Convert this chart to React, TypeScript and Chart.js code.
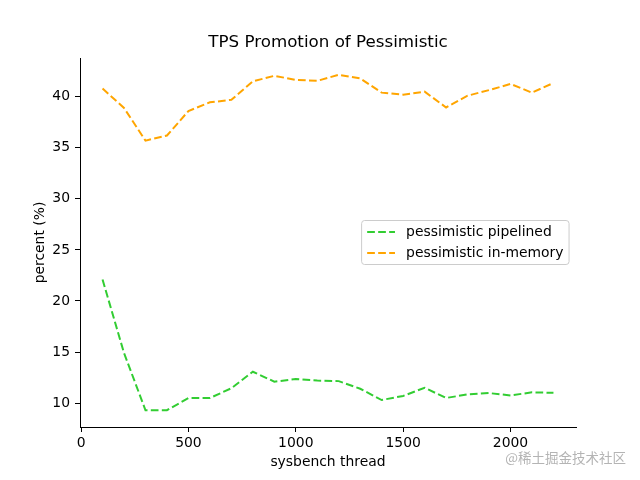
import React, { useEffect, useRef } from "react";
import { Chart, registerables } from "chart.js";

Chart.register(...registerables);

const threads = [100, 200, 300, 400, 500, 600, 700, 800, 900, 1000, 1100, 1200, 1300, 1400, 1500, 1600, 1700, 1800, 1900, 2000, 2100, 2200];
const pipelined = [22.1, 14.9, 9.3, 9.3, 10.5, 10.5, 11.45, 13.07, 12.1, 12.35, 12.2, 12.15, 11.4, 10.3, 10.7, 11.5, 10.5, 10.85, 10.98, 10.75, 11.05, 11.0];
const inMemory = [40.8, 38.9, 35.7, 36.2, 38.6, 39.45, 39.7, 41.5, 42.05, 41.65, 41.55, 42.15, 41.8, 40.4, 40.2, 40.5, 38.95, 40.1, 40.65, 41.25, 40.4, 41.35];
const xTicks = [0, 500, 1000, 1500, 2000];
const yTicks = [10, 15, 20, 25, 30, 35, 40];
const seriesNames = ["pessimistic pipelined", "pessimistic in-memory"];
const seriesColors = ["#32cd32", "#ffa500"];
const titleText = "TPS Promotion of Pessimistic";
const xLabel = "sysbench thread";
const yLabel = "percent (%)";
const watermark = "@稀土掘金技术社区";

const FONT = "'DejaVu Sans', sans-serif";
const DASH = [7.7, 3.3];

export default function App() {
  const ref = useRef<HTMLCanvasElement | null>(null);

  useEffect(() => {
    const canvas = ref.current;
    if (!canvas) return;
    const allY = [...pipelined, ...inMemory];
    const yMinD = Math.min(...allY);
    const yMaxD = Math.max(...allY);
    const yPad = (yMaxD - yMinD) * 0.05;
    const xMinD = Math.min(...threads);
    const xMaxD = Math.max(...threads);
    const xPad = (xMaxD - xMinD) * 0.05;

    const overlay = {
      id: "overlay",
      afterDraw(chart: any) {
        const ctx = chart.ctx as CanvasRenderingContext2D;
        const ca = chart.chartArea;
        ctx.save();
        // title
        ctx.fillStyle = "#000";
        ctx.font = `16.7px ${FONT}`;
        ctx.textAlign = "center";
        ctx.textBaseline = "middle";
        ctx.fillText(titleText, (ca.left + ca.right) / 2, 43);

        // legend
        const fs = 13.9;
        ctx.font = `${fs}px ${FONT}`;
        const tw = Math.max(...seriesNames.map((n) => ctx.measureText(n).width));
        const bw = 0.4 * fs * 2 + 2 * fs + 0.8 * fs + tw;
        const bh = 44;
        const bx = ca.right - 0.5 * fs - bw;
        const by = (ca.top + ca.bottom) / 2 - bh / 2;
        ctx.beginPath();
        const r = 3;
        ctx.moveTo(bx + r, by);
        ctx.lineTo(bx + bw - r, by);
        ctx.arcTo(bx + bw, by, bx + bw, by + r, r);
        ctx.lineTo(bx + bw, by + bh - r);
        ctx.arcTo(bx + bw, by + bh, bx + bw - r, by + bh, r);
        ctx.lineTo(bx + r, by + bh);
        ctx.arcTo(bx, by + bh, bx, by + bh - r, r);
        ctx.lineTo(bx, by + r);
        ctx.arcTo(bx, by, bx + r, by, r);
        ctx.closePath();
        ctx.fillStyle = "rgba(255,255,255,0.8)";
        ctx.fill();
        ctx.strokeStyle = "#cccccc";
        ctx.lineWidth = 1;
        ctx.stroke();
        seriesNames.forEach((name, i) => {
          const cy = by + bh / 2 + (i === 0 ? -10.5 : 10.5);
          const lx = bx + 0.4 * fs;
          ctx.beginPath();
          ctx.setLineDash(DASH);
          ctx.strokeStyle = seriesColors[i];
          ctx.lineWidth = 2;
          ctx.moveTo(lx, cy);
          ctx.lineTo(lx + 2 * fs, cy);
          ctx.stroke();
          ctx.setLineDash([]);
          ctx.fillStyle = "#000";
          ctx.textAlign = "left";
          ctx.textBaseline = "middle";
          ctx.fillText(name, lx + 2 * fs + 0.8 * fs, cy);
        });

        // watermark
        ctx.font = `13.5px 'Noto Sans CJK SC', sans-serif`;
        ctx.textAlign = "right";
        ctx.textBaseline = "middle";
        ctx.fillStyle = "#b4b4b4";
        ctx.fillText(watermark, 626, 458);
        ctx.restore();
      },
    };

    const chart = new Chart(canvas, {
      type: "line",
      data: {
        datasets: [
          {
            label: seriesNames[0],
            data: threads.map((x, i) => ({ x, y: pipelined[i] })),
            borderColor: seriesColors[0],
            backgroundColor: seriesColors[0],
            borderWidth: 2,
            borderDash: DASH,
            pointRadius: 0,
            tension: 0,
            fill: false,
          },
          {
            label: seriesNames[1],
            data: threads.map((x, i) => ({ x, y: inMemory[i] })),
            borderColor: seriesColors[1],
            backgroundColor: seriesColors[1],
            borderWidth: 2,
            borderDash: DASH,
            pointRadius: 0,
            tension: 0,
            fill: false,
          },
        ],
      },
      options: {
        animation: false,
        responsive: false,
        maintainAspectRatio: false,
        layout: { padding: { top: 58, right: 64, left: 0, bottom: 0 } },
        plugins: {
          legend: { display: false },
          title: { display: false },
          tooltip: { enabled: false },
        },
        scales: {
          x: {
            type: "linear",
            min: xMinD - xPad,
            max: xMaxD + xPad,
            afterBuildTicks: (s: any) => {
              s.ticks = xTicks.map((v) => ({ value: v }));
            },
            afterFit: (s: any) => {
              s.height = 53;
            },
            grid: { display: true, drawOnChartArea: false, drawTicks: true, tickLength: 5, color: "#000", lineWidth: 1 },
            border: { display: true, color: "#000", width: 1 },
            ticks: { color: "#000", font: { family: FONT, size: 13.9 }, padding: 3, maxRotation: 0, autoSkip: false, callback: (v: any) => String(v) },
            title: { display: true, text: xLabel, color: "#000", font: { family: FONT, size: 13.9 }, padding: { top: 0, bottom: 9.7 } },
          },
          y: {
            type: "linear",
            min: yMinD - yPad,
            max: yMaxD + yPad,
            afterBuildTicks: (s: any) => {
              s.ticks = yTicks.map((v) => ({ value: v }));
            },
            afterFit: (s: any) => {
              s.width = 80;
            },
            grid: { display: true, drawOnChartArea: false, drawTicks: true, tickLength: 5, color: "#000", lineWidth: 1 },
            border: { display: true, color: "#000", width: 1 },
            ticks: { color: "#000", font: { family: FONT, size: 13.9 }, padding: 5, autoSkip: false, callback: (v: any) => String(v) },
            title: { display: true, text: yLabel, color: "#000", font: { family: FONT, size: 13.9 }, padding: { top: 31.7, bottom: 0 } },
          },
        },
      },
      plugins: [overlay],
    });
    return () => chart.destroy();
  }, []);

  return (
    <div style={{ position: "fixed", left: 0, top: 0, width: 640, height: 480, background: "#fff" }}>
      <canvas ref={ref} width={640} height={480} style={{ width: 640, height: 480 }} />
    </div>
  );
}
